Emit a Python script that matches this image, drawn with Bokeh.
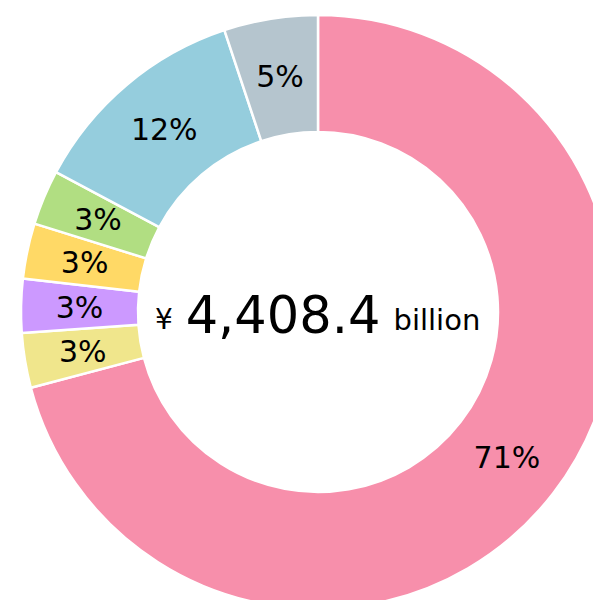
import numpy as np
from bokeh.plotting import figure
from bokeh.models import ColumnDataSource, Range1d
from bokeh.core.properties import value
from bokeh.embed import file_html
from bokeh.resources import INLINE

# Data (clockwise from 12 o'clock), billions of yen
segments = ["A", "B", "C", "D", "E", "F", "G"]
amounts = [3125.4, 131.0, 129.0, 133.0, 132.0, 533.0, 225.0]
colors = ["#F78FAB", "#F0E68C", "#CC99FF", "#FFD966", "#B1DE82", "#95CDDD", "#B5C5CE"]
total_label = "4,408.4"
currency = "¥"
unit = "billion"

vals = np.array(amounts)
frac = vals / vals.sum()
cum = np.concatenate([[0], np.cumsum(frac)])
start = np.pi / 2 - cum[:-1] * 2 * np.pi
end = np.pi / 2 - cum[1:] * 2 * np.pi
mid = (start + end) / 2

W, H = 593, 600
cx, cy = 317.5, 608 - 311.5
r_in, r_out = 180, 297
r_mid = (r_in + r_out) / 2

src = ColumnDataSource(dict(
    start=start, end=end, color=colors,
    lx=cx + r_mid * np.cos(mid), ly=cy + r_mid * np.sin(mid),
    label=[f"{round(f*100)}%" for f in frac],
))

p = figure(width=W, height=H, output_backend="svg", toolbar_location=None,
           x_range=Range1d(0, W), y_range=Range1d(8, 8 + H),
           min_border=0, outline_line_color=None,
           x_axis_location=None, y_axis_location=None)
p.grid.visible = False
p.background_fill_color = "white"
p.border_fill_color = "white"

p.annular_wedge(x=cx, y=cy, inner_radius=r_in, outer_radius=r_out,
                start_angle="start", end_angle="end", direction="clock",
                fill_color="color", line_color="white", line_width=2.5, source=src)

p.text(x="lx", y="ly", text="label", source=src, text_align="center",
       text_baseline="middle", text_font=value("DejaVu Sans"),
       text_font_size="30px", text_color="black")

p.text(x=[cx], y=[cy], text=[total_label], text_align="center", text_baseline="alphabetic",
       x_offset=-35, y_offset=2, text_font=value("DejaVu Sans"),
       text_font_size="51px", text_color="black")
p.text(x=[cx], y=[cy], text=[currency], text_align="center", text_baseline="alphabetic",
       x_offset=-154, y_offset=7, text_font=value("DejaVu Sans"),
       text_font_size="28px", text_color="black")
p.text(x=[cx], y=[cy], text=[unit], text_align="left", text_baseline="alphabetic",
       x_offset=75.5, y_offset=8, text_font=value("DejaVu Sans"),
       text_font_size="29px", text_color="black")

open("out.html", "w").write(file_html(p, INLINE))
